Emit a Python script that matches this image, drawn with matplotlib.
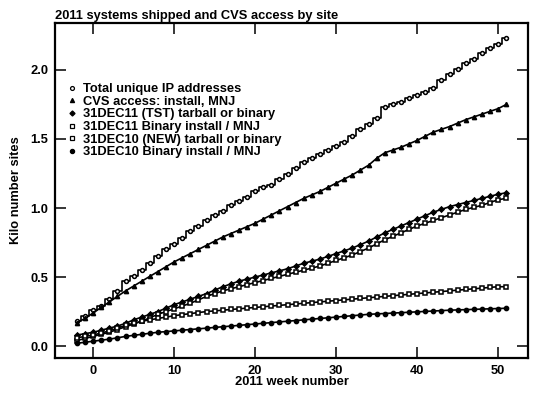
import matplotlib
matplotlib.use("Agg")
import matplotlib.pyplot as plt
from matplotlib.lines import Line2D

plt.rcParams['font.family'] = ['Liberation Sans', 'DejaVu Sans']
plt.rcParams['font.weight'] = 'bold'

# week numbers (x)
weeks = list(range(-2, 52))

total_ip = [0.18, 0.22, 0.26, 0.29, 0.34, 0.40, 0.47, 0.51, 0.55, 0.60,
            0.65, 0.70, 0.74, 0.78, 0.83, 0.87, 0.91, 0.95, 0.98, 1.02,
            1.05, 1.08, 1.12, 1.15, 1.17, 1.21, 1.25, 1.29, 1.33, 1.36,
            1.39, 1.42, 1.45, 1.48, 1.52, 1.57, 1.61, 1.65, 1.73, 1.75,
            1.77, 1.80, 1.82, 1.84, 1.87, 1.93, 1.97, 2.01, 2.05, 2.08,
            2.12, 2.16, 2.19, 2.23]

cvs_access = [0.17, 0.20, 0.24, 0.28, 0.32, 0.36, 0.40, 0.435, 0.47, 0.505,
              0.54, 0.575, 0.61, 0.64, 0.67, 0.70, 0.73, 0.76, 0.79, 0.815,
              0.84, 0.865, 0.89, 0.92, 0.95, 0.98, 1.01, 1.04, 1.07, 1.095,
              1.12, 1.15, 1.18, 1.21, 1.24, 1.275, 1.31, 1.36, 1.40, 1.42,
              1.44, 1.465, 1.49, 1.52, 1.55, 1.57, 1.59, 1.615, 1.64, 1.66,
              1.68, 1.70, 1.72, 1.75]

tst11_tarball = [0.08, 0.09, 0.10, 0.115, 0.13, 0.145, 0.165, 0.19, 0.21, 0.23,
                 0.25, 0.275, 0.30, 0.32, 0.34, 0.36, 0.38, 0.405, 0.43, 0.45,
                 0.47, 0.485, 0.50, 0.515, 0.53, 0.545, 0.56, 0.58, 0.60, 0.615,
                 0.63, 0.65, 0.67, 0.69, 0.71, 0.735, 0.76, 0.79, 0.82, 0.845,
                 0.87, 0.895, 0.92, 0.945, 0.97, 0.99, 1.01, 1.025, 1.04, 1.055,
                 1.07, 1.085, 1.10, 1.11]

bin11_install = [0.04, 0.055, 0.07, 0.085, 0.10, 0.12, 0.14, 0.16, 0.18, 0.205,
                 0.23, 0.25, 0.27, 0.29, 0.31, 0.335, 0.36, 0.38, 0.40, 0.415,
                 0.43, 0.445, 0.46, 0.475, 0.49, 0.505, 0.52, 0.535, 0.55, 0.565,
                 0.58, 0.60, 0.62, 0.64, 0.66, 0.685, 0.71, 0.74, 0.77, 0.795,
                 0.82, 0.845, 0.87, 0.89, 0.91, 0.93, 0.95, 0.97, 0.99, 1.005,
                 1.02, 1.04, 1.06, 1.07]

new10_tarball = [0.06, 0.07, 0.08, 0.095, 0.11, 0.13, 0.15, 0.165, 0.18, 0.19,
                 0.20, 0.21, 0.22, 0.228, 0.235, 0.243, 0.25, 0.255, 0.26, 0.265,
                 0.27, 0.275, 0.28, 0.285, 0.29, 0.295, 0.30, 0.305, 0.31, 0.315,
                 0.32, 0.325, 0.33, 0.335, 0.34, 0.345, 0.35, 0.355, 0.36, 0.365,
                 0.37, 0.375, 0.38, 0.385, 0.39, 0.395, 0.40, 0.405, 0.41, 0.415,
                 0.42, 0.425, 0.43, 0.43]

bin10_install = [0.02, 0.028, 0.035, 0.043, 0.05, 0.06, 0.07, 0.078, 0.085, 0.093,
                 0.10, 0.105, 0.11, 0.115, 0.12, 0.125, 0.13, 0.135, 0.14, 0.145,
                 0.15, 0.155, 0.16, 0.165, 0.17, 0.175, 0.18, 0.185, 0.19, 0.195,
                 0.20, 0.205, 0.21, 0.215, 0.22, 0.225, 0.23, 0.233, 0.236, 0.239,
                 0.242, 0.245, 0.248, 0.251, 0.254, 0.257, 0.26, 0.262, 0.264, 0.266,
                 0.268, 0.27, 0.272, 0.274]

labels = ["Total unique IP addresses",
          "CVS access: install, MNJ",
          "31DEC11 (TST) tarball or binary",
          "31DEC11 Binary install / MNJ",
          "31DEC10 (NEW) tarball or binary",
          "31DEC10 Binary install / MNJ"]

FS = 9.3

fig = plt.figure(figsize=(5.4, 3.97), dpi=100)
ax = fig.add_axes([0.102, 0.098, 0.876, 0.844])

series = [total_ip, cvs_access, tst11_tarball, bin11_install, new10_tarball, bin10_install]
markers = ['o', '^', 'D', 's', 's', 'o']
hollow = [True, False, False, True, True, False]
msizes = [2.8, 3.0, 2.6, 2.6, 2.3, 3.0]
styles = ['steps-mid', 'default', 'default', 'default', 'default', 'default']

handles = []
for ys, mk, hl, ms, ds, lab in zip(series, markers, hollow, msizes, styles, labels):
    fc = 'white' if hl else 'black'
    ax.plot(weeks, ys, color='black', lw=1.2, drawstyle=ds, marker=mk,
            markersize=ms, markerfacecolor=fc, markeredgecolor='black',
            markeredgewidth=1.1)
    handles.append(Line2D([], [], linestyle='None', marker=mk, markersize=ms,
                          markerfacecolor=fc, markeredgecolor='black',
                          markeredgewidth=0.9, label=lab))

ax.set_xlim(-4.7, 53.7)
ax.set_ylim(-0.087, 2.34)
ax.set_xticks([0, 10, 20, 30, 40, 50])
ax.set_yticks([0.0, 0.5, 1.0, 1.5, 2.0])
ax.set_yticklabels(['0.0', '0.5', '1.0', '1.5', '2.0'])
ax.tick_params(direction='in', length=8, width=1.1, top=True, right=True,
               labelsize=FS, pad=5)
for lab in ax.get_xticklabels() + ax.get_yticklabels():
    lab.set_fontweight('bold')
for sp in ax.spines.values():
    sp.set_linewidth(1.6)

ax.set_xlabel("2011 week number", fontsize=FS, fontweight='bold', labelpad=-1)
ax.set_ylabel("Kilo number sites", fontsize=FS, fontweight='bold', labelpad=6)
ax.set_title("2011 systems shipped and CVS access by site", loc='left',
             fontsize=FS, fontweight='bold', pad=3)

ax.legend(handles=handles, loc='upper left', bbox_to_anchor=(0.028, 0.82),
          frameon=False, prop={'weight': 'bold', 'size': FS},
          handlelength=0.6, handletextpad=0.5, labelspacing=0.04,
          borderpad=0, borderaxespad=0)

fig.savefig("out.png", dpi=100)
